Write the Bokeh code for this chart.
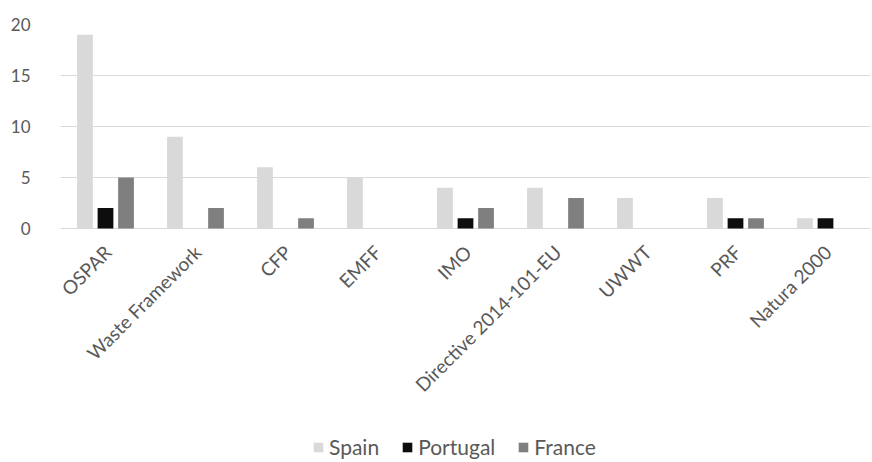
import math
from bokeh.plotting import figure
from bokeh.models import ColumnDataSource, FactorRange, Range1d, FixedTicker, Legend
from bokeh.transform import dodge
from bokeh.core.properties import value
from bokeh.embed import file_html
from bokeh.resources import INLINE

# Number of mentions per instrument, by country
categories = ["OSPAR", "Waste Framework", "CFP", "EMFF", "IMO",
              "Directive 2014-101-EU", "UWWT", "PRF", "Natura 2000"]
spain = [19, 9, 6, 5, 4, 4, 3, 3, 1]
portugal = [2, 0, 0, 0, 1, 0, 0, 1, 1]
france = [5, 2, 1, 0, 2, 3, 0, 1, 0]
y_ticks = [0, 5, 10, 15, 20]

FONT = "Lato"
TEXT = "#595959"

W, H = 872, 462
TOP, ZERO_PX = 24, 228          # pixel rows of the 20 and 0 gridlines
y_max = max(y_ticks)
# the frame runs to the bottom edge so that labels and legend live inside it
y_min = -y_max * (H - ZERO_PX) / (ZERO_PX - TOP)

source = ColumnDataSource(dict(cat=categories, spain=spain,
                               portugal=portugal, france=france))

p = figure(x_range=FactorRange(*categories), y_range=Range1d(y_min, y_max),
           width=W, height=H, output_backend="svg", toolbar_location=None,
           x_axis_location=None,
           min_border_left=60, min_border_right=2, min_border_top=TOP,
           min_border_bottom=0)
p.outline_line_color = None
p.background_fill_color = "white"
p.border_fill_color = "white"

series = [("spain", "Spain", "#d9d9d9", -0.228),
          ("portugal", "Portugal", "#0d0d0d", 0.0),
          ("france", "France", "#7f7f7f", 0.228)]
items = []
for col, label, color, off in series:
    r = p.vbar(x=dodge("cat", off, range=p.x_range), top=col, width=0.175,
               source=source, fill_color=color, line_color=None)
    items.append((label, [r]))

# rotated category labels hanging from the baseline
p.text(x=categories, y=[0] * len(categories), text=categories,
       angle=math.pi / 4, text_align="right", text_baseline="top",
       x_offset=-6, y_offset=12, text_font=value(FONT),
       text_font_size="19px", text_color=TEXT)

p.xgrid.grid_line_color = None
p.ygrid.grid_line_color = "#d9d9d9"
p.ygrid.grid_line_width = 1

p.yaxis.ticker = FixedTicker(ticks=y_ticks)
p.yaxis.axis_line_color = None
p.yaxis.major_tick_line_color = None
p.yaxis.minor_tick_line_color = None
p.yaxis.major_label_standoff = 24
p.yaxis.major_label_text_font = FONT
p.yaxis.major_label_text_font_size = "17px"
p.yaxis.major_label_text_color = TEXT

legend = Legend(items=items, orientation="horizontal", location=(252, 3),
                label_text_font=FONT, label_text_font_size="21px",
                label_text_color=TEXT, glyph_width=12, glyph_height=12,
                spacing=22, label_standoff=5, border_line_color=None,
                background_fill_alpha=0, margin=0, padding=3)
p.add_layout(legend, "center")

open("out.html", "w").write(file_html(p, INLINE))
